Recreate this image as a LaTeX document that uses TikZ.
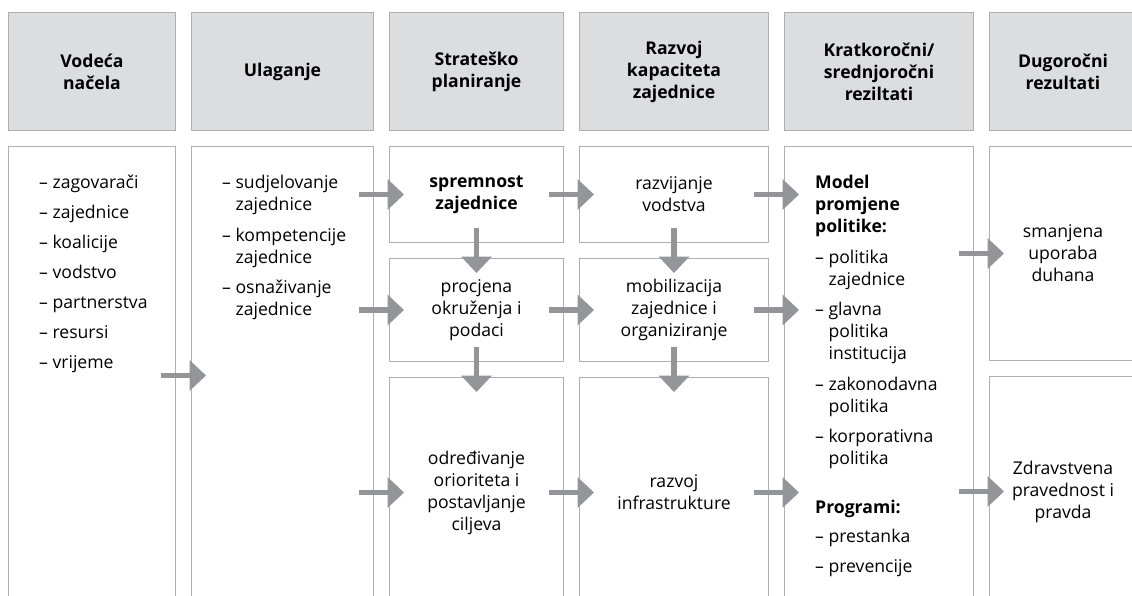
\documentclass[tikz,border=0pt]{standalone}
\usepackage{fontspec}
\setmainfont{Open Sans}
\usepackage{xcolor}
\usetikzlibrary{arrows.meta,positioning,calc}

\definecolor{boxline}{RGB}{175,175,175}
\definecolor{headfill}{RGB}{220,221,223}
\definecolor{flowgray}{RGB}{147,149,152}
\newcommand{\boxfont}{\fontsize{17.6}{22}\selectfont}
\newcommand{\cont}{\phantom{– }}

\begin{document}
\begin{tikzpicture}[
    x=1pt, y=1pt,
    node distance=15pt and 15pt,
    head/.style={draw=boxline, line width=1pt, fill=headfill, align=center, minimum height=118pt, inner sep=2pt, font=\boxfont\bfseries},
    cell/.style={draw=boxline, line width=1pt, align=center, inner sep=2pt, font=\boxfont},
    items/.style={align=left, inner sep=0pt, font=\boxfont},
    flow/.style={-{Triangle[length=16.5pt, width=31pt, line width=0pt]}, line width=5.5pt, draw=flowgray}
]
\useasboundingbox (0,0) rectangle (1132,-596);
\clip (0,0) rectangle (1132,-596);

% Column headings, left to right.
\node[head, minimum width=167pt, anchor=north west] (lead) at (8,-12) {Vodeća\\načela};
\node[head, minimum width=182pt, right=of lead] (invest) {Ulaganje};
\node[head, minimum width=174pt, right=of invest] (plan) {Strateško\\planiranje};
\node[head, minimum width=189pt, right=of plan] (capacity) {Razvoj\\kapaciteta\\zajednice};
\node[head, minimum width=189pt, right=of capacity] (short) {Kratkoročni/\\srednjoročni\\reziltati};
\node[head, minimum width=147pt, right=of short] (long) {Dugoročni\\rezultati};

% Tall boxes under the first two headings.
\node[cell, minimum width=167pt, minimum height=458pt, below=of lead] (leadbox) {};
\node[cell, minimum width=182pt, minimum height=458pt, below=of invest] (investbox) {};

% Strategic planning steps.
\node[cell, minimum width=174pt, minimum height=96pt, below=of plan] (ready) {\textbf{spremnost}\\\textbf{zajednice}};
\node[cell, minimum width=174pt, minimum height=103pt, below=of ready] (scan) {procjena\\okruženja i\\podaci};
\node[cell, minimum width=174pt, minimum height=230pt, below=of scan] (goals) {određivanje\\orioriteta i\\postavljanje\\ciljeva};

% Capacity building steps.
\node[cell, minimum width=189pt, minimum height=96pt, below=of capacity] (leader) {razvijanje\\vodstva};
\node[cell, minimum width=189pt, minimum height=103pt, below=of leader] (mobil) {mobilizacija\\zajednice i\\organiziranje};
\node[cell, minimum width=189pt, minimum height=230pt, below=of mobil] (infra) {razvoj\\infrastrukture};

% Outcomes.
\node[cell, minimum width=189pt, minimum height=458pt, below=of short] (outbox) {};
\node[cell, minimum width=147pt, minimum height=214pt, below=of long] (tobacco) {smanjena\\uporaba\\duhana};
\node[cell, minimum width=147pt, minimum height=230pt, below=of tobacco] (equity) {Zdravstvena\\pravednost i\\pravda};

% Lists set into the tall boxes.
\node[items, below right=29pt and 31pt of leadbox.north west] (leadlist) {– zagovarači\\[8pt]– zajednice\\[8pt]– koalicije\\[8pt]– vodstvo\\[8pt]– partnerstva\\[8pt]– resursi\\[8pt]– vrijeme};
\node[items, below right=29pt and 31pt of investbox.north west] (investlist) {– sudjelovanje\\\cont zajednice\\[8.5pt]– kompetencije\\\cont zajednice\\[8.5pt]– osnaživanje\\\cont zajednice};
\node[items, below right=29pt and 31pt of outbox.north west] (outlist) {\textbf{Model}\\\textbf{promjene}\\\textbf{politike:}\\[8.5pt]– politika\\\cont zajednice\\[8.5pt]– glavna\\\cont politika\\\cont institucija\\[8.5pt]– zakonodavna\\\cont politika\\[8.5pt]– korporativna\\\cont politika\\[27pt]\textbf{Programi:}\\[7pt]– prestanka\\[7.5pt]– prevencije};

% Horizontal flow between columns.
\draw[flow] ($(leadbox.east |- investbox.west)+(-15,0)$) -- ($(investbox.west)+(15,0)$);
\draw[flow] ($(investbox.east |- ready.west)+(-15,0)$) -- ($(ready.west)+(15,0)$);
\draw[flow] ($(investbox.east |- scan.west)+(-15,0)$) -- ($(scan.west)+(15,0)$);
\draw[flow] ($(investbox.east |- goals.west)+(-15,0)$) -- ($(goals.west)+(15,0)$);
\draw[flow] ($(ready.east)+(-15,0)$) -- ($(leader.west)+(15,0)$);
\draw[flow] ($(scan.east)+(-15,0)$) -- ($(mobil.west)+(15,0)$);
\draw[flow] ($(goals.east)+(-15,0)$) -- ($(infra.west)+(15,0)$);
\draw[flow] ($(leader.east)+(-15,0)$) -- ($(outbox.west |- leader.east)+(15,0)$);
\draw[flow] ($(mobil.east)+(-15,0)$) -- ($(outbox.west |- mobil.east)+(15,0)$);
\draw[flow] ($(infra.east)+(-15,0)$) -- ($(outbox.west |- infra.east)+(15,0)$);
\draw[flow] ($(outbox.east |- tobacco.west)+(-15,0)$) -- ($(tobacco.west)+(15,0)$);
\draw[flow] ($(outbox.east |- equity.west)+(-15,0)$) -- ($(equity.west)+(15,0)$);

% Vertical flow inside the two middle columns.
\draw[flow] ($(ready.south)+(0,15)$) -- ($(scan.north)+(0,-15)$);
\draw[flow] ($(scan.south)+(0,15)$) -- ($(goals.north)+(0,-15)$);
\draw[flow] ($(leader.south)+(0,15)$) -- ($(mobil.north)+(0,-15)$);
\draw[flow] ($(mobil.south)+(0,15)$) -- ($(infra.north)+(0,-15)$);

\end{tikzpicture}
\end{document}
